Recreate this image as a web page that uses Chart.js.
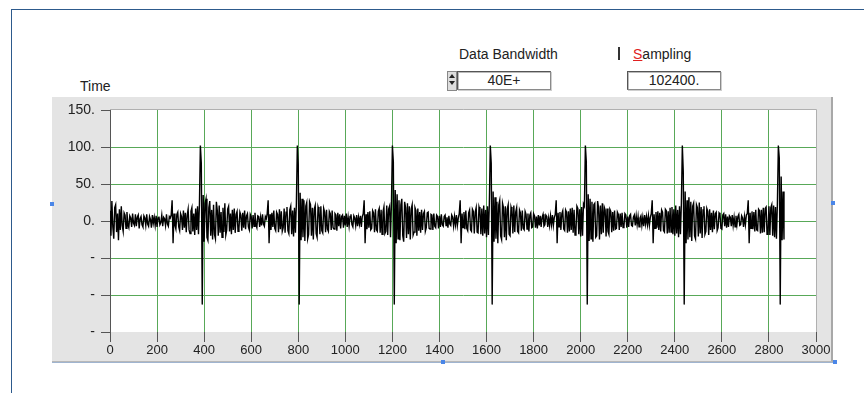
<!DOCTYPE html>
<html>
<head>
<meta charset="utf-8">
<script src="https://cdn.jsdelivr.net/npm/chart.js@4"></script>
<style>
  body { margin: 0; width: 864px; height: 393px; background: #fff; position: relative; overflow: hidden;
         font-family: "Liberation Sans", Arial, sans-serif; font-size: 14px; color: #222; }
  .abs { position: absolute; }
  #frameTop { left: 11px; top: 9px; width: 853px; height: 1px; background: #2d5a8c; }
  #frameLeft { left: 11px; top: 9px; width: 1px; height: 384px; background: #2d5a8c; }
  #panel { left: 52px; top: 97px; width: 779px; height: 264px; background: #e4e4e4;
           border-right: 2px solid #a8a8a8; border-bottom: 1px solid #b8b8b8; }
  #selLine { left: 52px; top: 362px; width: 783px; height: 1px; background: #9fb4d0; }
  .handle { width: 4px; height: 4px; background: #4a86e8; }
  .box { height: 17px; background: #fff; border: 1px solid #8a8a8a; border-top-color: #555; border-left-color: #555;
         box-shadow: 1px 1px 0 #cfcfcf, inset 1px 1px 0 #bbb; text-align: center; line-height: 17px; font-size: 14px; }
  #spin { left: 447px; top: 71px; width: 8px; height: 18px; background: #ddd; border: 1px solid #888; }
  #spin div { width: 0; height: 0; margin: 2px auto 0; border-left: 3px solid transparent; border-right: 3px solid transparent; }
  #chart { position: absolute; left: 0; top: 0; }
</style>
</head>
<body>
<div class="abs" id="frameTop"></div>
<div class="abs" id="frameLeft"></div>
<div class="abs" id="panel"></div>
<div class="abs" id="selLine"></div>
<div class="abs handle" style="left:50px;top:202px"></div>
<div class="abs handle" style="left:831px;top:201px"></div>
<div class="abs handle" style="left:441px;top:360px"></div>
<div class="abs handle" style="left:833px;top:360px"></div>

<div class="abs" style="left:80px;top:78px">Time</div>
<div class="abs" style="left:459px;top:46px">Data Bandwidth</div>
<div class="abs" id="spin"><div style="border-bottom:4px solid #222"></div><div style="border-top:4px solid #222;margin-top:3px"></div></div>
<div class="abs box" style="left:457px;top:71px;width:92px">40E+</div>
<div class="abs" style="left:618px;top:47px;width:2px;height:13px;background:#333"></div>
<div class="abs" style="left:633px;top:46px"><span style="color:#e02020;text-decoration:underline">S</span>ampling</div>
<div class="abs box" style="left:627px;top:71px;width:92px">102400.</div>

<canvas id="chart" width="864" height="393"></canvas>

<script>
// waveform samples, one every sampleStep time units starting at 0
const sampleStep = 4;
const signal = [
  14, -20, 27, -8, -24, 18, 22, -15, 10, -26,
  16, -12, 20, -6, -14, 11, 8, -10, 12, -5,
  -9, 7, 4, -8, 10, -3, -6, 9, -7, 5,
  8, -10, 3, 6, -5, -8, 7, 4, -6, 9,
  -4, -7, 6, 2, -9, 8, -3, 5, -6, 7,
  -8, 4, 6, -5, -2, 8, -7, 5, 3, -6,
  9, -4, -7, 6, 4, 8, 28, -30, 10, -6,
  -11, 9, 12, -8, -13, 10, 6, -12, 14, -9,
  11, -15, 8, 16, -12, -17, 13, 18, -14, 10,
  -19, 17, -12, 20, -18, 22, 102, 78, -113, 35,
  -28, 24, 30, -22, -26, 18, 27, -20, 15, -25,
  22, -18, -24, 26, 14, -20, 21, -16, 12, -22,
  18, -15, 24, -19, -12, 16, 20, -14, 10, -18,
  15, -12, 17, -16, 9, 13, -14, -10, 12, 8,
  -13, 11, -9, 14, -11, 7, 10, -8, -12, 9,
  6, -10, 8, -7, 11, -5, -9, 7, 6, -8,
  5, -6, 9, -4, -7, 6, 3, 10, 28, -30,
  9, -12, 11, -8, 14, -10, -13, 12, 9, -15,
  16, -11, 13, -14, -9, 17, -16, 12, 19, -13,
  -17, 15, 20, -18, 14, -21, 18, -16, 24, 102,
  76, -113, 38, -26, 30, -22, 28, -27, 20, 25,
  -24, -18, 26, 22, -20, 18, -25, 16, 21, -17,
  -22, 19, 14, -18, 20, -13, -16, 17, 12, -15,
  15, -11, -14, 13, 10, -12, 14, -9, -11, 10,
  8, -13, 11, -7, 9, -10, 6, 8, -9, 7,
  -6, 10, -8, 5, -7, 6, 9, -5, -8, 7,
  4, -6, 8, -7, 5, -4, 7, -8, 6, 10,
  28, -30, 9, -11, 12, -9, 13, -12, -10, 14,
  11, -15, 16, -12, -14, 13, 17, -16, 15, -18,
  12, 19, -17, -14, 21, -19, 16, 20, -22, 24,
  102, 80, -113, 42, -30, 36, -24, 28, -26, 22,
  30, -20, -28, 26, 18, -23, 24, -18, 20, -25,
  16, 22, -19, -15, 18, 14, -20, 17, -13, 12,
  -16, 15, -12, 10, 13, -14, -9, 11, 12, -10,
  -11, 9, 8, -12, 10, -7, -9, 8, 6, -10,
  7, -8, 9, -5, -7, 6, 8, -6, 5, -9,
  7, -4, -6, 8, 5, -7, 6, -5, 8, -6,
  4, 10, 28, -30, 10, -9, 12, -11, 14, -10,
  -13, 11, 15, -12, -14, 16, 13, -17, 12, 18,
  -15, -16, 19, 14, -18, 17, -20, 21, -17, 15,
  -22, 20, -19, 24, 102, 78, -113, 40, -28, 32,
  -24, 26, -30, 22, 28, -20, -25, 24, 18, -22,
  20, -26, 16, 22, -18, -20, 19, 14, -17, 21,
  -15, 12, 18, -14, -16, 15, 11, -13, 14, -10,
  -12, 13, 9, -11, 10, -14, 8, 11, -9, -8,
  10, 7, -9, 6, -10, 8, -6, 7, -8, 5,
  9, -7, -5, 8, 6, -8, 4, -6, 7, -5,
  8, -6, 5, 9, 28, -30, 11, -8, 12, -12,
  10, 14, -11, -13, 15, 12, -16, 13, -14, 17,
  -12, 18, -16, 15, -19, -14, 20, 17, -18, 16,
  -21, 19, -20, 23, 20, 102, 80, -113, 36, -27,
  30, -24, 26, -28, 22, 24, -22, -20, 27, 18,
  -25, 21, -18, 24, -16, 19, 15, -21, 17, -14,
  -18, 16, 13, -15, 12, -13, 14, -11, -10, 12,
  9, -12, 10, -8, 11, -9, -7, 10, 8, -9,
  6, -8, 7, 9, -6, -7, 5, 8, -6, 7,
  -5, 6, -8, 4, 7, -6, 5, -7, 8, -4,
  6, -5, 7, -6, 5, 10, 28, -30, 9, -10,
  12, -9, 13, -12, 11, -14, 15, 12, -13, -15,
  16, 14, -17, 13, -16, 18, -15, 19, -18, 16,
  -20, 21, -17, 15, -22, 20, -18, 24, 102, 67,
  -113, 40, -30, 28, -25, 32, -22, 26, -27, 20,
  24, -20, -24, 22, 18, -21, 25, -17, 19, -23,
  15, 20, -18, -14, 17, 13, -19, 16, -12, 11,
  -15, 14, -11, 10, 12, -13, -9, 11, 9, -10,
  -11, 8, 10, -7, 9, -9, 6, -8, 7, 5,
  -7, 8, -6, 5, -8, 7, -5, 6, 9, -6,
  -5, 7, 4, -8, 6, -5, 8, 10, 28, -30,
  11, -10, 13, -11, 12, -14, 15, -12, -13, 16,
  14, -17, 15, -16, 18, -15, 17, 19, -18, -17,
  20, -19, 18, 22, -20, 21, -22, 19, -24, 24,
  102, 85, -113, 60, -26, 40, -25
];

const yTickValues = [150, 100, 50, 0, -50, -100, -150];
const yTickText = ['150.', '100.', '50.', '0.', '-', '-', '-'];
const xTickValues = [0, 200, 400, 600, 800, 1000, 1200, 1400, 1600, 1800, 2000, 2200, 2400, 2600, 2800, 3000];

const points = signal.map((v, i) => ({ x: i * sampleStep, y: v }));

const gridGreen = '#58a858';

// white plot area with a thin frame on top and right
const plotBackground = {
  id: 'plotBackground',
  beforeDraw(chart) {
    const a = chart.chartArea, ctx = chart.ctx;
    ctx.save();
    ctx.fillStyle = '#fff';
    ctx.fillRect(a.left, a.top, a.width, a.height);
    ctx.strokeStyle = '#b0b0b0';
    ctx.lineWidth = 1;
    ctx.beginPath();
    ctx.moveTo(a.left, a.top - 0.5);
    ctx.lineTo(a.right + 0.5, a.top - 0.5);
    ctx.lineTo(a.right + 0.5, a.bottom);
    ctx.stroke();
    ctx.restore();
  }
};

new Chart(document.getElementById('chart'), {
  type: 'line',
  data: {
    datasets: [{
      data: points,
      borderColor: '#000',
      borderWidth: 1.4,
      pointRadius: 0,
      tension: 0,
      fill: false
    }]
  },
  options: {
    responsive: false,
    animation: false,
    layout: { padding: { left: 0, top: 110, right: 48, bottom: 31 } },
    plugins: { legend: { display: false }, tooltip: { enabled: false } },
    scales: {
      x: {
        type: 'linear',
        min: 0, max: 3000,
        afterFit(scale) { scale.height = 30; },
        afterBuildTicks(scale) { scale.ticks = xTickValues.map(v => ({ value: v })); },
        ticks: {
          color: '#222', font: { family: 'Liberation Sans', size: 13 }, padding: 1, maxRotation: 0, autoSkip: false,
          callback: v => String(v)
        },
        grid: {
          color: c => (c.tick && (c.tick.value === 0 || c.tick.value === 3000)) ? 'rgba(0,0,0,0)' : gridGreen,
          tickColor: '#555', tickLength: 10, lineWidth: 1
        },
        border: { display: false }
      },
      y: {
        min: -150, max: 150,
        afterFit(scale) { scale.width = 110; },
        afterBuildTicks(scale) { scale.ticks = yTickValues.map(v => ({ value: v })); },
        ticks: {
          color: '#222', font: { family: 'Liberation Sans', size: 14 }, padding: 6, autoSkip: false,
          callback: v => yTickText[yTickValues.indexOf(v)]
        },
        grid: {
          color: c => (c.tick && Math.abs(c.tick.value) === 150) ? 'rgba(0,0,0,0)' : gridGreen,
          tickColor: '#555', tickLength: 9, lineWidth: 1
        },
        border: { color: '#555' }
      }
    }
  },
  plugins: [plotBackground]
});
</script>
</body>
</html>
